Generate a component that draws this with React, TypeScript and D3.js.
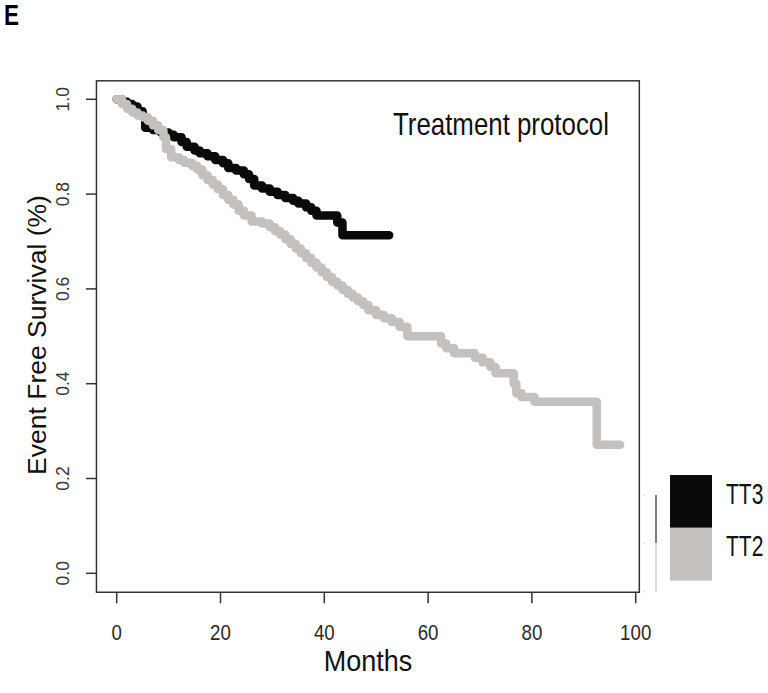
import React from "react";
import * as d3 from "d3";

const xTicks = [0, 20, 40, 60, 80, 100];
const yTicks = [0, 0.2, 0.4, 0.6, 0.8, 1.0];
const yTickLabels = ["0.0", "0.2", "0.4", "0.6", "0.8", "1.0"];

const groups = ["TT3", "TT2"];
const groupColors = ["#0a0a0a", "#c4c0bd"];

const tt3Time = [0, 1, 2, 3, 4, 5, 5.5, 7, 8.5, 10, 11, 12.5, 13.5, 15, 16, 17.5, 19, 20.5, 21.5, 23, 24.5, 25.5, 26.5, 28, 29.5, 31, 32.5, 34, 35, 36.5, 37.5, 38.5, 42.5, 43.5, 52.5];
const tt3Surv = [1.0, 0.995, 0.99, 0.985, 0.975, 0.965, 0.94, 0.935, 0.93, 0.925, 0.92, 0.91, 0.9, 0.892, 0.886, 0.88, 0.872, 0.865, 0.855, 0.85, 0.842, 0.832, 0.818, 0.812, 0.805, 0.798, 0.792, 0.786, 0.78, 0.772, 0.765, 0.755, 0.74, 0.713, 0.713];

const tt2Time = [0, 1, 2, 3, 4, 5, 6, 7, 8, 9, 9.5, 10.5, 12, 13, 14.5, 15.5, 16.5, 17.5, 18.5, 19.5, 20.5, 21.5, 22.5, 23.5, 24.5, 26, 28, 29.5, 30.5, 31.5, 32.5, 33.5, 34.5, 35.5, 36.5, 37.5, 38.5, 39.5, 40.5, 41.5, 42.5, 43.5, 44.5, 45.5, 46.5, 47.5, 48.5, 50, 51.5, 53, 54.5, 56, 62.5, 63.5, 65, 69, 70.5, 72, 73, 76.5, 77, 78, 80.5, 92.5, 97];
const tt2Surv = [1.0, 0.99, 0.98, 0.972, 0.966, 0.962, 0.955, 0.945, 0.935, 0.92, 0.895, 0.878, 0.872, 0.866, 0.86, 0.852, 0.84, 0.83, 0.82, 0.81, 0.798, 0.788, 0.778, 0.765, 0.755, 0.742, 0.738, 0.73, 0.722, 0.715, 0.705, 0.695, 0.685, 0.675, 0.665, 0.655, 0.645, 0.635, 0.625, 0.615, 0.607, 0.598, 0.59, 0.582, 0.574, 0.566, 0.555, 0.545, 0.538, 0.53, 0.52, 0.5, 0.485, 0.475, 0.464, 0.455, 0.445, 0.435, 0.422, 0.4, 0.38, 0.372, 0.362, 0.271, 0.271];

const W = 768;
const H = 693;

export default function App() {
  const x = d3.scaleLinear().domain([0, 100]).range([116.7, 635.7]);
  const y = d3.scaleLinear().domain([0, 1]).range([573.3, 99.3]);
  const box = { x0: x(-3.9), x1: x(100.7), y0: y(1.039), y1: y(-0.04) };

  const line = d3
    .line<[number, number]>()
    .x((d) => x(d[0]))
    .y((d) => y(d[1]))
    .curve(d3.curveStepAfter);

  const series = [
    tt3Time.map((t, i) => [t, tt3Surv[i]] as [number, number]),
    tt2Time.map((t, i) => [t, tt2Surv[i]] as [number, number]),
  ];

  const font = "'Liberation Sans', Arial, sans-serif";
  const axisColor = "#333";

  const legX = 670;
  const legW = 42;
  const legTop = 475;
  const legH = 52.8;

  return (
    <svg
      width={W}
      height={H}
      style={{ position: "absolute", left: 0, top: 0, background: "#fff" }}
      fontFamily={font}
    >
      <rect x={0} y={0} width={W} height={H} fill="#fff" />
      <text transform="translate(4,25) scale(0.75,1)" fontSize={30} fontWeight="bold" fill="#000">
        E
      </text>

      {series.map((s, i) => (
        <path
          key={groups[i]}
          d={line(s) || ""}
          fill="none"
          stroke={groupColors[i]}
          strokeWidth={8.5}
          strokeLinejoin="round"
          strokeLinecap="round"
        />
      ))}

      <rect
        x={box.x0}
        y={box.y0}
        width={box.x1 - box.x0}
        height={box.y1 - box.y0}
        fill="none"
        stroke={axisColor}
        strokeWidth={1.5}
      />

      {yTicks.map((v, i) => (
        <g key={"y" + i}>
          <line x1={box.x0 - 10.5} x2={box.x0} y1={y(v)} y2={y(v)} stroke={axisColor} strokeWidth={1.5} />
          <text
            transform={`translate(69,${y(v)}) rotate(-90)`}
            textAnchor="middle"
            fontSize={17.5}
            fill="#3a3530"
          >
            {yTickLabels[i]}
          </text>
        </g>
      ))}

      {xTicks.map((v) => (
        <g key={"x" + v}>
          <line x1={x(v)} x2={x(v)} y1={box.y1} y2={box.y1 + 11} stroke={axisColor} strokeWidth={1.5} />
          <text
            transform={`translate(${x(v)},640) scale(0.85,1)`}
            textAnchor="middle"
            fontSize={22}
            fill="#2e2a26"
          >
            {v}
          </text>
        </g>
      ))}

      <text transform="translate(368,671) scale(0.9,1)" textAnchor="middle" fontSize={30} fill="#111">
        Months
      </text>
      <text transform="translate(46,335) rotate(-90)" textAnchor="middle" fontSize={26.5} fill="#111">
        Event Free Survival (%)
      </text>
      <text transform="translate(393,135) scale(0.834,1)" fontSize={31} fill="#111">
        Treatment protocol
      </text>

      {groups.map((g, i) => (
        <g key={"leg" + g}>
          <rect x={legX} y={legTop + i * legH} width={legW} height={legH} fill={groupColors[i]} />
          <text
            transform={`translate(726,${legTop + i * legH + 28.5}) scale(0.7,1)`}
            fontSize={30}
            fill="#111"
          >
            {g}
          </text>
        </g>
      ))}
      <line x1={656} x2={656} y1={495} y2={543} stroke="#555" strokeWidth={1.5} />
      <line x1={656} x2={656} y1={543} y2={592} stroke="#d0d0d0" strokeWidth={1.5} />
      {[495, 543, 591].map((yy) => (
        <line key={yy} x1={643} x2={646} y1={yy} y2={yy} stroke="#ddd" strokeWidth={1} />
      ))}
    </svg>
  );
}
